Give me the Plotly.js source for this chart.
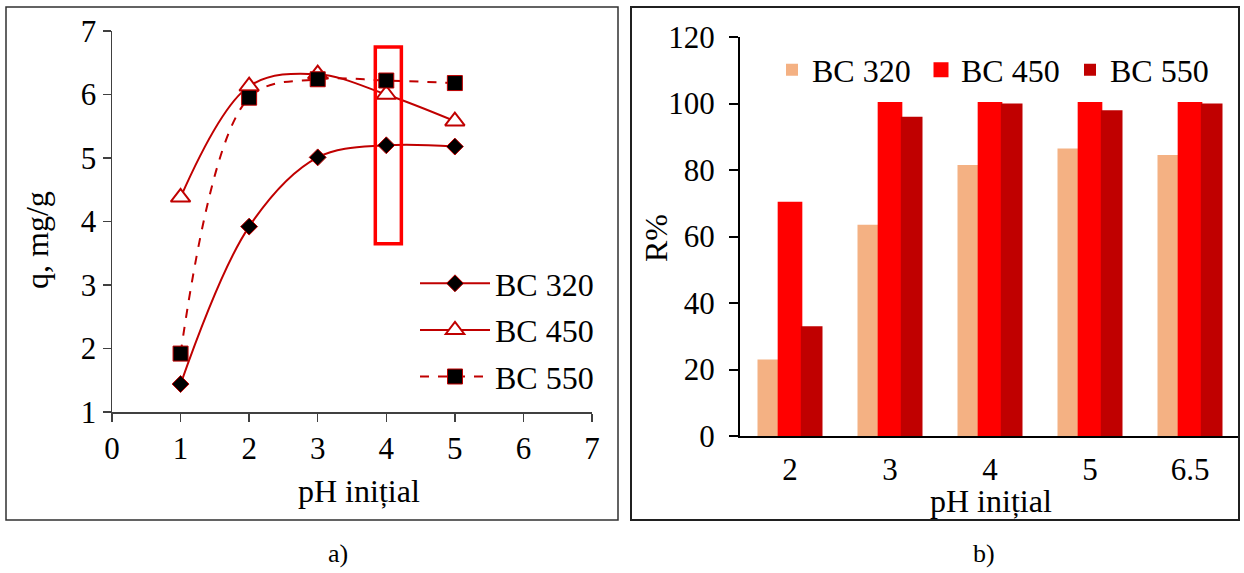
<!DOCTYPE html>
<html>
<head>
<meta charset="utf-8">
<script src="https://cdn.plot.ly/plotly-3.0.1.min.js"></script>
<style>
  html, body { margin: 0; padding: 0; background: #ffffff; overflow: hidden; width: 1244px; height: 573px; }
  #fig { width: 1244px; height: 573px; overflow: hidden; }
</style>
</head>
<body>
<div id="fig"></div>
<script>
// (a) adsorption capacity q (mg/g) versus initial pH
const phQ = [1, 2, 3, 4, 5];
const q320 = [1.44, 3.92, 5.01, 5.20, 5.18];
const q450 = [4.38, 6.13, 6.32, 6.00, 5.58];
const q550 = [1.92, 5.95, 6.24, 6.22, 6.18];

// (b) removal efficiency R% versus initial pH
const phR = ['2', '3', '4', '5', '6.5'];
const r320 = [23, 63.5, 81.5, 86.5, 84.5];
const r450 = [70, 100, 100, 100, 100];
const r550 = [33, 96, 100, 98, 100];

const seriesNames = ['BC 320', 'BC 450', 'BC 550'];

const W = 1244, H = 573;
const px = v => v / W;          // pixel -> paper x
const py = v => (H - v) / H;    // pixel (from top) -> paper y

const FONT = 'Liberation Serif, Times New Roman, serif';
const DARKRED = '#C00000';

const traces = [
  {
    x: phQ, y: q320, name: seriesNames[0], type: 'scatter', mode: 'lines+markers',
    xaxis: 'x', yaxis: 'y', legend: 'legend', legendgroup: 'a1',
    line: { color: DARKRED, width: 2, shape: 'spline', smoothing: 1 },
    marker: { symbol: 'diamond', size: 13, color: '#000000', line: { color: DARKRED, width: 1 } }
  },
  {
    x: phQ, y: q450, name: seriesNames[1], type: 'scatter', mode: 'lines+markers',
    xaxis: 'x', yaxis: 'y', legend: 'legend', legendgroup: 'a2',
    line: { color: DARKRED, width: 2, shape: 'spline', smoothing: 1 },
    marker: { symbol: 'triangle-up', size: 17, color: '#ffffff', line: { color: DARKRED, width: 2 } }
  },
  {
    x: phQ, y: q550, name: seriesNames[2], type: 'scatter', mode: 'lines+markers',
    xaxis: 'x', yaxis: 'y', legend: 'legend', legendgroup: 'a3',
    line: { color: DARKRED, width: 2, dash: 'dash', shape: 'spline', smoothing: 1 },
    marker: { symbol: 'square', size: 15, color: '#000000', line: { color: DARKRED, width: 1 } }
  },
  {
    x: phR, y: r320, name: seriesNames[0], type: 'bar',
    xaxis: 'x2', yaxis: 'y2', legend: 'legend2',
    marker: { color: '#F4B183', line: { width: 0 } }
  },
  {
    x: phR, y: r450, name: seriesNames[1], type: 'bar', cliponaxis: false,
    xaxis: 'x2', yaxis: 'y2', legend: 'legend2',
    marker: { color: '#FF0000', line: { color: '#FF0000', width: 3 } }
  },
  {
    x: phR, y: r550, name: seriesNames[2], type: 'bar',
    xaxis: 'x2', yaxis: 'y2', legend: 'legend2',
    marker: { color: DARKRED, line: { width: 0 } }
  }
];

const tickFont = { family: FONT, size: 31, color: '#000000' };
const titleFont = { family: FONT, size: 32, color: '#000000' };

// centred text placed in paper coordinates
function label(text, x, y, opts) {
  return Object.assign({
    text: text, xref: 'paper', yref: 'paper', x: px(x), y: py(y),
    xanchor: 'center', yanchor: 'middle', showarrow: false, font: titleFont
  }, opts || {});
}

const layout = {
  width: W, height: H,
  margin: { l: 0, r: 0, t: 0, b: 0 },
  paper_bgcolor: '#ffffff', plot_bgcolor: '#ffffff',
  font: { family: FONT, color: '#000000' },
  barmode: 'group', bargap: 0.35, bargroupgap: 0,
  xaxis: {
    domain: [px(112), px(592)], range: [0, 7], anchor: 'y',
    dtick: 1, tick0: 0, showgrid: false, zeroline: false,
    showline: true, linecolor: '#404040', linewidth: 1.5,
    ticks: 'outside', ticklen: 8, tickcolor: '#404040', tickwidth: 1.5,
    tickfont: tickFont, fixedrange: true
  },
  yaxis: {
    domain: [py(412), py(31)], range: [1, 7], anchor: 'x',
    dtick: 1, tick0: 1, showgrid: false, zeroline: false,
    showline: true, linecolor: '#404040', linewidth: 1.5,
    ticks: 'outside', ticklen: 8, tickcolor: '#404040', tickwidth: 1.5,
    tickfont: tickFont, fixedrange: true
  },
  xaxis2: {
    domain: [px(740), px(1240)], type: 'category', anchor: 'y2',
    showgrid: false, zeroline: false,
    showline: true, linecolor: '#000000', linewidth: 2,
    ticks: '', ticklabelstandoff: 5,
    tickfont: tickFont, fixedrange: true
  },
  yaxis2: {
    domain: [py(436), py(37)], range: [0, 120], anchor: 'x2',
    dtick: 20, showgrid: false, zeroline: false,
    showline: true, linecolor: '#000000', linewidth: 2,
    ticks: 'outside', ticklen: 9, tickcolor: '#000000', tickwidth: 2,
    ticklabelstandoff: 8,
    tickfont: tickFont, fixedrange: true
  },
  legend: {
    x: px(415), y: py(256), xanchor: 'left', yanchor: 'top',
    orientation: 'v', traceorder: 'grouped', tracegroupgap: 2,
    itemwidth: 70, bgcolor: 'rgba(0,0,0,0)',
    font: { family: FONT, size: 32, color: '#000000' }
  },
  legend2: {
    x: px(772), y: py(70), xanchor: 'left', yanchor: 'middle',
    orientation: 'h', itemwidth: 30, entrywidth: 104,
    bgcolor: 'rgba(0,0,0,0)',
    font: { family: FONT, size: 32, color: '#000000' }
  },
  shapes: [
    // panel frames
    { type: 'rect', xref: 'paper', yref: 'paper', x0: px(6), x1: px(618), y0: py(520), y1: py(7),
      line: { color: '#303030', width: 1.5 } },
    { type: 'rect', xref: 'paper', yref: 'paper', x0: px(631), x1: px(1239), y0: py(520), y1: py(7),
      line: { color: '#202020', width: 2 } },
    // highlight around pH 4 in panel (a)
    { type: 'rect', xref: 'x', yref: 'y', x0: 3.84, x1: 4.22, y0: 3.65, y1: 6.75,
      line: { color: '#FF0000', width: 3.5 } }
  ],
  annotations: [
    label('q, mg/g', 37, 240, { textangle: -90 }),
    label('pH inițial', 359, 491),
    label('R%', 656, 238, { textangle: -90 }),
    label('pH inițial', 991, 501),
    label('a)', 338, 553, { font: { family: FONT, size: 26, color: '#000000' } }),
    label('b)', 984, 553, { font: { family: FONT, size: 26, color: '#000000' } })
  ]
};

Plotly.newPlot('fig', traces, layout, { displayModeBar: false, staticPlot: true });
</script>
</body>
</html>
